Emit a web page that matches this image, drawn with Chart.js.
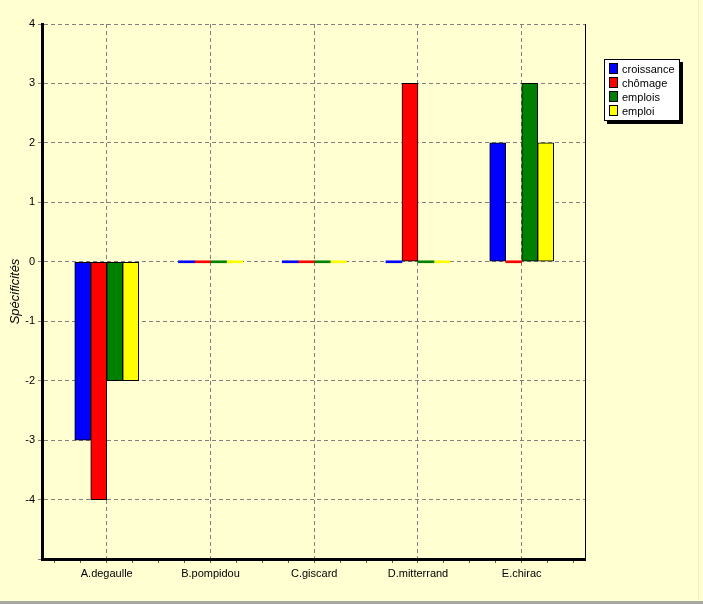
<!DOCTYPE html>
<html>
<head>
<meta charset="utf-8">
<script src="https://cdn.jsdelivr.net/npm/chart.js@4/dist/chart.umd.min.js"></script>
<style>
  html, body { margin: 0; padding: 0; background: #ffffd2; }
  #wrap { position: relative; width: 703px; height: 604px; overflow: hidden; }
  #wrap:after { content: ""; position: absolute; left: 0; right: 0; bottom: 0; height: 3px; background: #a8a8a0; }
  #edge { position: absolute; top: 0; right: 4px; width: 1px; height: 600px; background: #f0f0c8; }
  #legende {
    position: absolute; left: 604px; top: 59px; width: 74px; height: 58px;
    background: #fff; border: 1px solid #000; box-shadow: 3px 3px 0 #000;
    font: 11px "Liberation Sans", Arial, sans-serif; color: #000; padding-top: 2px;
  }
  #legende div { height: 14px; line-height: 14px; white-space: nowrap; }
  #legende span { display: inline-block; width: 7px; height: 9px; border: 1px solid #000;
    margin: 0 4px 0 4px; vertical-align: -1px; }
</style>
</head>
<body>
<div id="wrap">
  <canvas id="specif" width="703" height="604"></canvas>
  <div id="edge"></div>
  <div id="legende"></div>
</div>
<script>
(function() {

  // Categories (presidents) et series de specificites
  const presidents = ['A.degaulle', 'B.pompidou', 'C.giscard', 'D.mitterrand', 'E.chirac'];
  const croissance = [-3, 0, 0, 0, 2];
  const chomage = [-4, 0, 0, 3, 0];
  const emplois = [-2, 0, 0, 0, 3];
  const emploi = [-2, 0, 0, 0, 2];

  const seriesNames = ['croissance', 'chômage', 'emplois', 'emploi'];
  const seriesColors = ['#0000ff', '#ff0000', '#008000', '#ffff00'];
  const seriesData = [croissance, chomage, emplois, emploi];

  const yTicks = [-5, -4, -3, -2, -1, 0, 1, 2, 3, 4];

  const isWhole = v => Math.abs(v - Math.round(v)) < 1e-6;

  // petites graduations de l'axe x : un quart de categorie
  const xTicks = [];
  for (let q = -2; q <= presidents.length * 4 - 2; q++) xTicks.push(q / 4);

  const datasets = seriesNames.map((name, k) => ({
    label: name,
    data: seriesData[k].map((v, i) => ({ x: i, y: v })),
    backgroundColor: seriesColors[k],
    borderColor: '#000',
    borderWidth: ctx => (ctx.raw && ctx.raw.y === 0 ? 0 : 1),
    borderSkipped: false,
    minBarLength: 2,
    barThickness: 16
  }));

  const chart = new Chart(document.getElementById('specif'), {
    type: 'bar',
    data: { datasets: datasets },
    options: {
      responsive: false,
      animation: false,
      layout: { padding: { left: 0, top: 24, right: 118, bottom: 0 } },
      plugins: { legend: { display: false }, tooltip: { enabled: false } },
      scales: {
        x: {
          type: 'linear',
          bounds: 'data',
          offset: false,
          min: -0.624,
          max: 4.61,
          afterFit: s => { s.height = 45; },
          afterBuildTicks: s => { s.ticks = xTicks.map(v => ({ value: v })); },
          ticks: {
            autoSkip: false,
            maxRotation: 0,
            padding: 4,
            color: '#000',
            font: { family: '"Liberation Sans", Arial', size: 11 },
            callback: v => (isWhole(v) ? (presidents[Math.round(v)] || '') : '')
          },
          grid: {
            offset: false,
            color: ctx => (ctx.tick && isWhole(ctx.tick.value) ? '#808080' : 'rgba(0,0,0,0)'),
            tickColor: '#606060',
            tickLength: 4,
            lineWidth: 1
          },
          border: { color: '#000', width: 3, dash: [4, 3] }
        },
        y: {
          min: yTicks[0],
          max: yTicks[yTicks.length - 1],
          afterFit: s => { s.width = 42; },
          afterBuildTicks: s => { s.ticks = yTicks.map(v => ({ value: v })); },
          ticks: {
            padding: 3,
            color: '#000',
            font: { family: '"Liberation Sans", Arial', size: 11 },
            callback: v => (v === yTicks[0] ? '' : v)
          },
          grid: { color: '#808080', tickColor: '#808080', tickLength: 4, lineWidth: 1 },
          border: { color: '#000', width: 3, dash: [4, 3] },
          title: {
            display: true,
            text: 'Spécificités',
            color: '#000',
            padding: { top: 8, bottom: 0 },
            font: { family: '"Liberation Sans", Arial', size: 13, style: 'italic' }
          }
        },
        yDroite: {
          position: 'right',
          min: yTicks[0],
          max: yTicks[yTicks.length - 1],
          afterFit: s => { s.width = 0; },
          ticks: { display: false },
          grid: { drawOnChartArea: false, drawTicks: false },
          border: { color: '#000', width: 1 }
        }
      }
    }
  });

  // Legende a droite, construite a partir des datasets
  const legende = document.getElementById('legende');
  chart.data.datasets.forEach(ds => {
    const row = document.createElement('div');
    const sw = document.createElement('span');
    sw.style.background = ds.backgroundColor;
    row.appendChild(sw);
    row.appendChild(document.createTextNode(ds.label));
    legende.appendChild(row);
  });
})();
</script>
</body>
</html>
